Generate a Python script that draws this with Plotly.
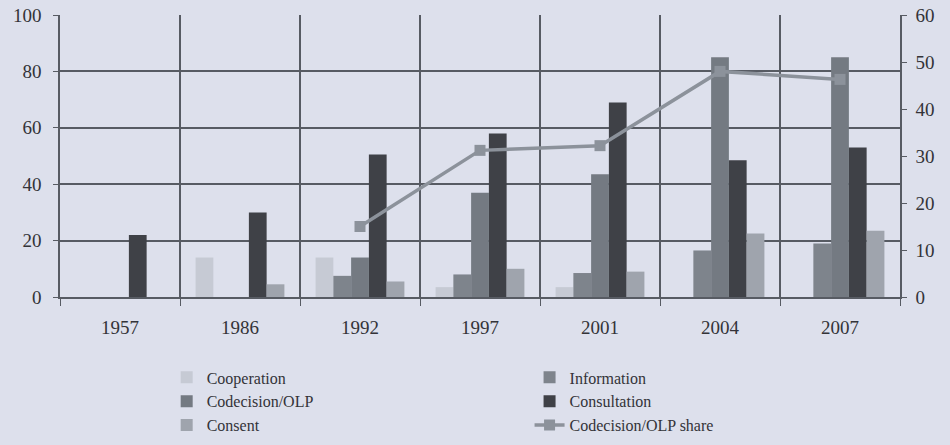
import plotly.graph_objects as go
from plotly.subplots import make_subplots

years = ["1957", "1986", "1992", "1997", "2001", "2004", "2007"]
cooperation = [None, 14, 14, 3.5, 3.5, None, None]
information = [None, None, 7.5, 8, 8.5, 16.5, 19]
codecision = [None, None, 14, 37, 43.5, 85, 85]
consultation = [22, 30, 50.5, 58, 69, 48.5, 53]
consent = [None, 4.5, 5.5, 10, 9, 22.5, 23.5]
codecision_share = [None, None, 15, 31.2, 32.2, 48, 46.3]

bg = "#dde0ec"
grid = "#575b63"
txt = "#333338"
font_family = "Liberation Serif, Times New Roman, serif"

fig = make_subplots(specs=[[{"secondary_y": True}]])

bar_specs = [
    ("Cooperation", cooperation, "#c6cad4", "legend"),
    ("Information", information, "#7e848c", "legend2"),
    ("Codecision/OLP", codecision, "#747a82", "legend"),
    ("Consultation", consultation, "#3f4147", "legend2"),
    ("Consent", consent, "#9fa4ad", "legend"),
]
for name, vals, col, lg in bar_specs:
    fig.add_trace(
        go.Bar(x=years, y=vals, name=name, marker=dict(color=col, line=dict(width=0)),
               legend=lg),
        secondary_y=False,
    )

fig.add_trace(
    go.Scatter(x=years, y=codecision_share, name="Codecision/OLP share", mode="lines+markers",
               line=dict(color="#8c929b", width=3.5),
               marker=dict(symbol="square", size=11, color="#8c929b"),
               legend="legend2"),
    secondary_y=True,
)

fig.update_layout(
    width=950, height=445,
    margin=dict(l=60, r=50, t=15, b=148, autoexpand=False),
    paper_bgcolor=bg, plot_bgcolor=bg,
    barmode="group", bargap=0.26, bargroupgap=0,
    font=dict(family=font_family, size=16, color=txt),
    legend=dict(x=0.127, y=-0.225, xanchor="left", yanchor="top", orientation="v",
                bgcolor="rgba(0,0,0,0)", font=dict(size=16), traceorder="normal",
                tracegroupgap=0),
    legend2=dict(x=0.559, y=-0.225, xanchor="left", yanchor="top", orientation="v",
                 bgcolor="rgba(0,0,0,0)", font=dict(size=16), traceorder="normal",
                 tracegroupgap=0),
    showlegend=True,
)

fig.update_xaxes(
    type="category", tickson="boundaries", ticks="outside", ticklen=7, tickcolor=grid,
    showgrid=True, gridcolor=grid, gridwidth=1.5,
    showline=True, linecolor=grid, linewidth=1.5, domain=[0, 1],
    tickfont=dict(size=19, color=txt), ticklabelstandoff=12, automargin=False,
)
fig.update_yaxes(
    range=[0, 100], dtick=20, ticks="outside", ticklen=5, tickcolor=grid,
    showgrid=True, gridcolor=grid, gridwidth=1.5,
    showline=True, linecolor=grid, linewidth=1.5, zeroline=False,
    tickfont=dict(size=19, color=txt), ticklabelstandoff=8, automargin=False,
    secondary_y=False,
)
fig.update_yaxes(
    range=[0, 60], dtick=10, ticks="outside", ticklen=5, tickcolor=grid,
    showgrid=False, showline=True, linecolor=grid, linewidth=1.5, zeroline=False,
    tickfont=dict(size=19, color=txt), ticklabelstandoff=5, automargin=False,
    secondary_y=True,
)

fig.write_html(
    "out.html",
    config={"displayModeBar": False},
    post_script="document.body.style.margin='0';document.body.style.background='" + bg + "';",
)
